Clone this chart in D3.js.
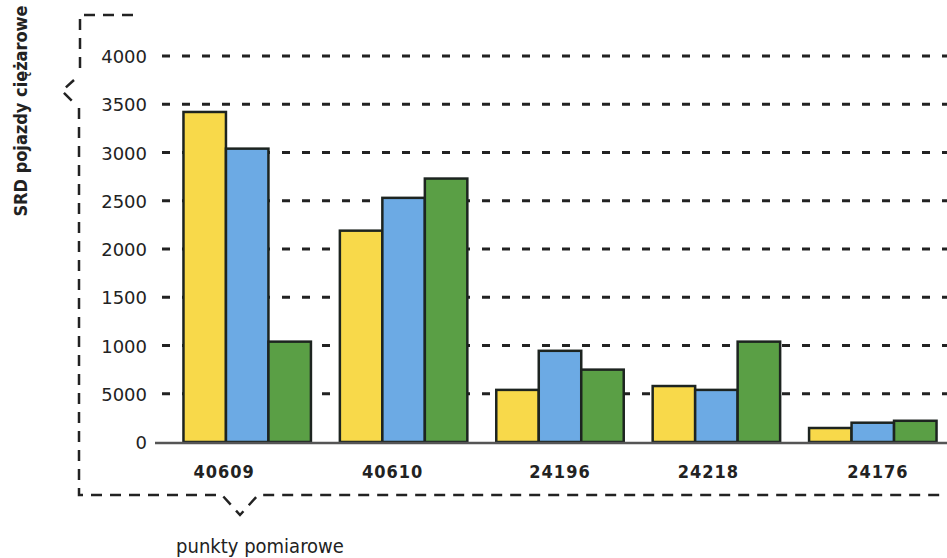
<!DOCTYPE html>
<html>
<head>
<meta charset="utf-8">
<script src="https://cdn.jsdelivr.net/npm/d3@7"></script>
<style>
body{margin:0;background:#fff;}
</style>
</head>
<body>
<svg id="chart" width="947" height="558"></svg>
<script>
var points=["40609","40610","24196","24218","24176"];
var series=["s1","s2","s3"];
var yellow=[3420,2190,540,580,145];
var blue=[3040,2530,945,540,200];
var green=[1040,2730,750,1040,220];
var yTicks=[0,500,1000,1500,2000,2500,3000,3500,4000];
var yTickLabels=["0","5000","1000","1500","2000","2500","3000","3500","4000"];
var colors=["#f8d94a","#6caae4","#5a9f45"];

var svg=d3.select("#chart");

var x0=d3.scaleBand().domain(points).range([169,951]).paddingInner(0.185).paddingOuter(0.0925);
var x1=d3.scaleBand().domain(series).range([0,x0.bandwidth()]);
var y=d3.scaleLinear().domain([0,4000]).range([442,56]);

// grid
svg.append("g").selectAll("line")
   .data(yTicks.filter(function(d){return d>0;}))
   .enter().append("line")
   .attr("x1",162).attr("x2",947)
   .attr("y1",function(d){return y(d);}).attr("y2",function(d){return y(d);})
   .style("stroke","#222").style("stroke-width",3)
   .style("stroke-dasharray","8,12");

// tick labels
svg.append("g").selectAll("text")
   .data(yTicks)
   .enter().append("text")
   .attr("x",147).attr("y",function(d){return y(d)+7;})
   .attr("text-anchor","end")
   .style("font-family","'DejaVu Sans'")
   .style("font-size","18px")
   .style("fill","#222")
   .text(function(d,i){return yTickLabels[i];});

// bars
var rows=points.map(function(p,i){return {p:p,v:[yellow[i],blue[i],green[i]]};});
var g=svg.append("g").selectAll("g")
   .data(rows).enter().append("g")
   .attr("transform",function(d){return "translate("+x0(d.p)+",0)";});
g.selectAll("rect")
   .data(function(d){return d.v.map(function(v,j){return {s:series[j],v:v,j:j};});})
   .enter().append("rect")
   .attr("x",function(d){return x1(d.s);})
   .attr("y",function(d){return y(d.v);})
   .attr("width",x1.bandwidth())
   .attr("height",function(d){return y(0)-y(d.v);})
   .style("fill",function(d){return colors[d.j];})
   .style("stroke","#1d2420").style("stroke-width",2.5);

// baseline
svg.append("line")
   .attr("x1",155).attr("x2",947).attr("y1",y(0)+1).attr("y2",y(0)+1)
   .style("stroke","#555").style("stroke-width",2.5);

// category labels (slightly hand-shifted as in the print)
var labelShift=[-23,-11,0,-8,5];
svg.append("g").selectAll("text")
   .data(points).enter().append("text")
   .attr("x",function(d,i){return x0(d)+x0.bandwidth()/2+labelShift[i];})
   .attr("y",478)
   .attr("text-anchor","middle")
   .style("font-family","'DejaVu Sans Condensed'")
   .style("font-weight","bold")
   .style("font-size","18px")
   .style("letter-spacing","1px")
   .style("fill","#222")
   .text(function(d){return d;});

// bracket decoration
svg.append("path")
   .attr("d","M133,15 H80 V76 M74,80 L62,91 L74,103 M79,108 V495 H222 L240,515 L258,495 H947")
   .style("fill","none").style("stroke","#222").style("stroke-width",2.5)
   .style("stroke-dasharray","11,8");

// titles
svg.append("text")
   .attr("transform","translate(27,111) rotate(-90)")
   .attr("text-anchor","middle")
   .style("font-family","'DejaVu Sans Condensed'")
   .style("font-weight","bold")
   .style("font-size","18px")
   .style("fill","#222")
   .text("SRD pojazdy ciężarowe");
svg.append("text")
   .attr("x",260).attr("y",553)
   .attr("text-anchor","middle")
   .style("font-family","'Liberation Sans Narrow','DejaVu Sans Condensed'")
   .style("font-size","20px")
   .style("fill","#222")
   .text("punkty pomiarowe");
</script>
</body>
</html>
